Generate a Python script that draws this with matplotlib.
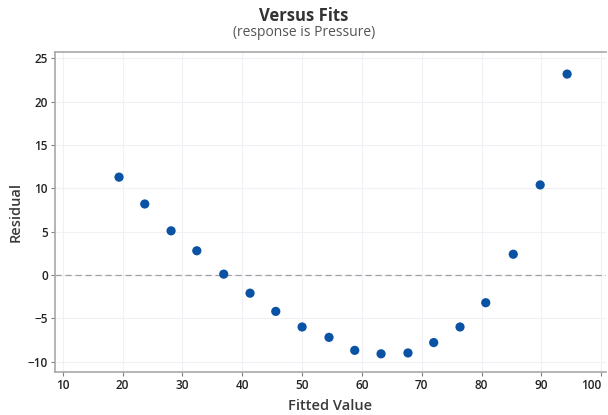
import matplotlib
matplotlib.use("Agg")
import matplotlib.pyplot as plt

# Fitted values and residuals of the regression on Pressure
fitted = [19.4, 23.7, 28.1, 32.4, 36.9, 41.3, 45.6, 50.0, 54.5, 58.8,
          63.2, 67.7, 72.0, 76.4, 80.7, 85.3, 89.8, 94.3]
residual = [11.3, 8.2, 5.1, 2.8, 0.1, -2.1, -4.2, -6.0, -7.2, -8.7,
            -9.1, -9.0, -7.8, -6.0, -3.2, 2.4, 10.4, 23.2]

x_ticks = [10, 20, 30, 40, 50, 60, 70, 80, 90, 100]
y_ticks = [-10, -5, 0, 5, 10, 15, 20, 25]

plt.rcParams['font.family'] = ['Open Sans', 'DejaVu Sans']

fig = plt.figure(figsize=(6.08, 4.15), dpi=100)
ax = fig.add_axes([0.0905, 0.1036, 0.9062, 0.7711])

ax.grid(True, color="#f3eff6", linewidth=0.8, zorder=0)
ax.set_axisbelow(True)
ax.axhline(0, color="#a0a0a0", linestyle=(0, (5, 3)), linewidth=0.9, zorder=2)
ax.scatter(fitted, residual, s=44, color="#0a52a3", edgecolors="none", zorder=3)

ax.set_xlim(8.7, 100.8)
ax.set_ylim(-11.2, 25.75)
ax.set_xticks(x_ticks)
ax.set_yticks(y_ticks)

for side in ["left", "bottom", "top"]:
    ax.spines[side].set_color("#a8a8a8")
    ax.spines[side].set_linewidth(1.2)
ax.spines["right"].set_visible(False)

ax.tick_params(axis="both", direction="out", length=3, width=0.8,
               color="#808080", labelsize=8.5, labelcolor="#222222", pad=2)
for lab in ax.get_xticklabels() + ax.get_yticklabels():
    lab.set_fontweight("semibold")
ax.get_xticklabels()[-1].set_horizontalalignment("right")
ax.get_xticklabels()[-1].set_x(100.8)

ax.set_xlabel("Fitted Value", fontsize=10.5, color="#3a3a3a",
              fontweight="semibold", labelpad=5)
ax.set_ylabel("Residual", fontsize=10.5, color="#3a3a3a",
              fontweight="semibold", labelpad=4)

fig.text(0.5, 0.962, "Versus Fits", ha="center", va="center",
         fontsize=12, fontweight="bold", color="#333333")
fig.text(0.5, 0.921, "(response is Pressure)", ha="center", va="center",
         fontsize=10, color="#555555")

fig.savefig("out.png", dpi=100)
